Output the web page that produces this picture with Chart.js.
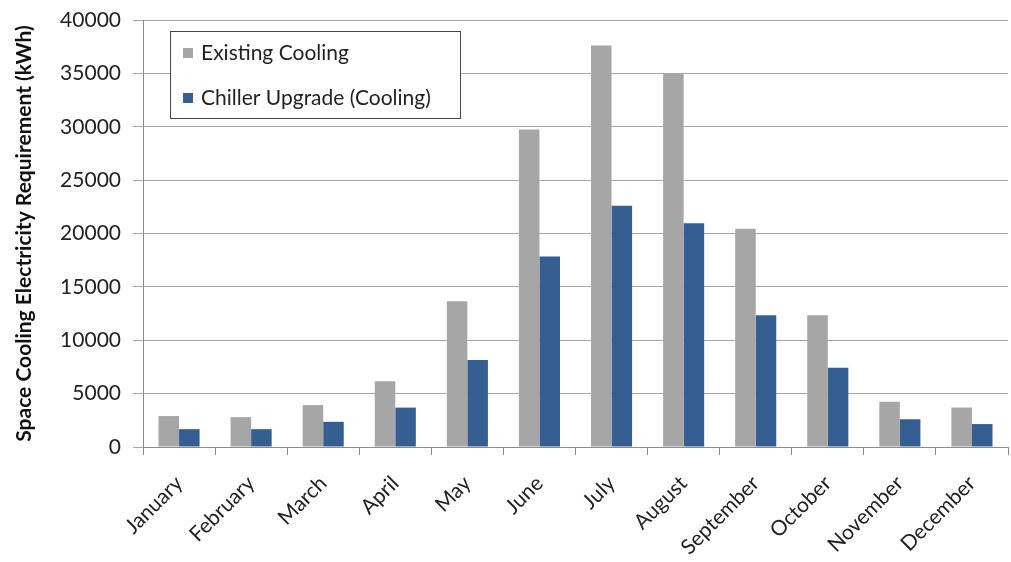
<!DOCTYPE html>
<html>
<head>
<meta charset="utf-8">
<script src="https://cdn.jsdelivr.net/npm/chart.js@4"></script>
<style>
html,body{margin:0;padding:0;background:#fff;}
#wrap{width:1011px;height:562px;position:relative;}
</style>
</head>
<body>
<div id="wrap"><canvas id="c"></canvas></div>
<script>
const months = ["January","February","March","April","May","June","July","August","September","October","November","December"];
const existingCooling = [2900, 2800, 3920, 6150, 13650, 29750, 37600, 35000, 20450, 12350, 4250, 3700];
const chillerUpgrade = [1670, 1670, 2360, 3690, 8150, 17850, 22600, 20950, 12350, 7420, 2600, 2150];
const yTicks = [0, 5000, 10000, 15000, 20000, 25000, 30000, 35000, 40000];
const seriesNames = ["Existing Cooling", "Chiller Upgrade (Cooling)"];
const yTitle = "Space Cooling Electricity Requirement (kWh)";

const FONT = "Lato, 'Open Sans', sans-serif";

const legendInside = {
  id: 'legendInside',
  afterDraw(chart) {
    const ctx = chart.ctx;
    const x0 = 170, y0 = 31, w = 290, h = 87;
    ctx.save();
    ctx.fillStyle = '#ffffff';
    ctx.fillRect(x0, y0, w, h);
    ctx.strokeStyle = '#444444';
    ctx.lineWidth = 1;
    ctx.strokeRect(x0 + 0.5, y0 + 0.5, w, h);
    ctx.font = "21px " + FONT;
    ctx.textBaseline = 'middle';
    chart.data.datasets.forEach((ds, i) => {
      const cy = y0 + 22 + i * 45;
      ctx.fillStyle = ds.backgroundColor;
      ctx.fillRect(x0 + 13, cy - 5, 10, 10);
      ctx.fillStyle = '#222222';
      ctx.fillText(ds.label, x0 + 31, cy);
    });
    ctx.restore();
  }
};

new Chart(document.getElementById('c'), {
  type: 'bar',
  data: {
    labels: months,
    datasets: [
      { label: seriesNames[0], data: existingCooling, backgroundColor: '#a6a6a6', borderWidth: 0 },
      { label: seriesNames[1], data: chillerUpgrade, backgroundColor: '#355f92', borderWidth: 0 }
    ]
  },
  options: {
    responsive: true,
    maintainAspectRatio: false,
    animation: false,
    layout: { padding: { top: 20, right: 3, left: 8, bottom: 0 } },
    plugins: { legend: { display: false }, tooltip: { enabled: false } },
    datasets: { bar: { categoryPercentage: 0.57, barPercentage: 1.0 } },
    scales: {
      x: {
        grid: { display: true, drawOnChartArea: false, drawTicks: true, tickLength: 8, color: '#8c8c8c', offset: true },
        border: { display: true, color: '#8c8c8c', width: 1 },
        ticks: { color: '#222222', font: { family: FONT, size: 21 }, minRotation: 45, maxRotation: 45, padding: 16 },
        afterFit(scale) { scale.height = 115; scale.paddingLeft = 0; scale.paddingRight = 0; }
      },
      y: {
        min: 0, max: 40000,
        afterBuildTicks(scale) { scale.ticks = yTicks.map(v => ({ value: v })); },
        grid: { color: '#a8a8a8', lineWidth: 1, tickLength: 10, drawTicks: true },
        border: { display: true, color: '#8c8c8c', width: 1 },
        ticks: { color: '#222222', font: { family: FONT, size: 21 }, padding: 12, callback: v => String(v) },
        title: { display: true, text: yTitle, color: '#111111', font: { family: FONT, size: 21, weight: 'bold' }, padding: { top: 4, bottom: 4 } },
        afterFit(scale) { scale.width = 135; scale.paddingTop = 0; scale.paddingBottom = 0; }
      }
    }
  },
  plugins: [legendInside]
});
</script>
</body>
</html>
